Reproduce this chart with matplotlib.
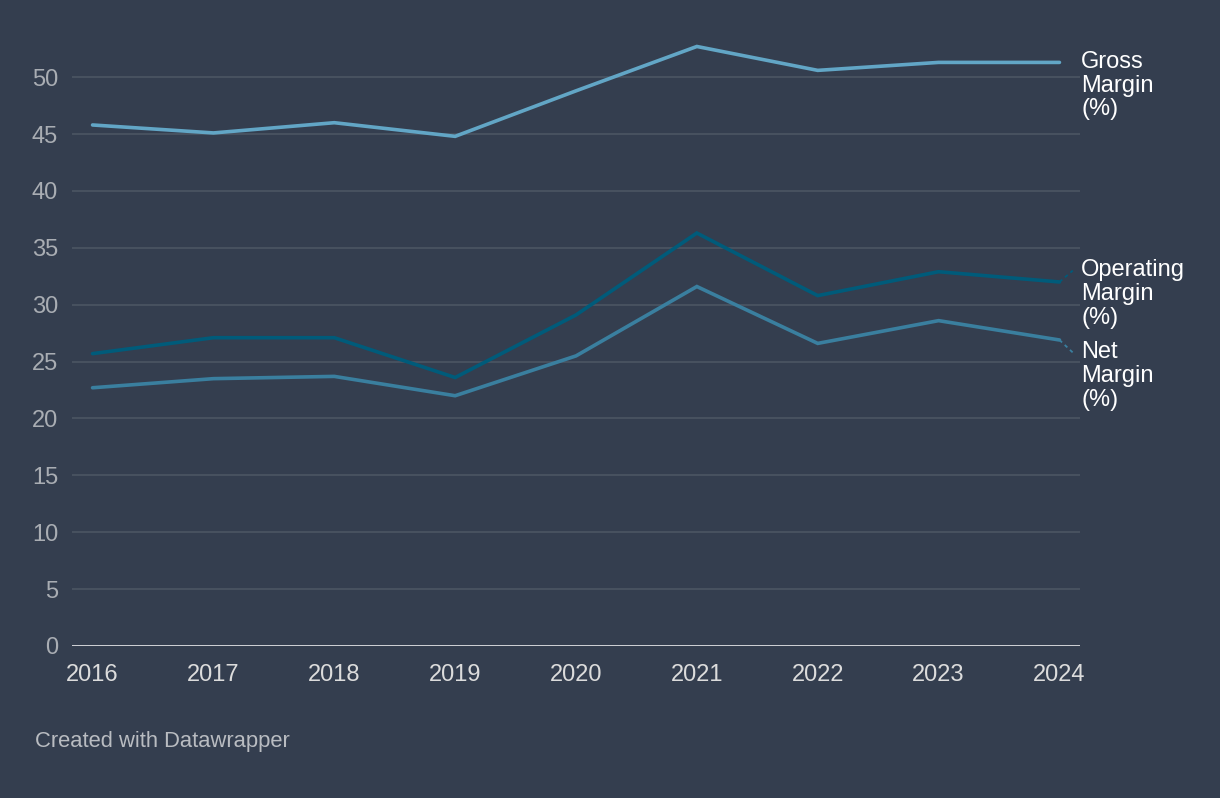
import matplotlib
matplotlib.use("Agg")
import matplotlib.pyplot as plt
from matplotlib.transforms import blended_transform_factory

plt.rcParams['font.family'] = ['Liberation Sans', 'DejaVu Sans']

years = [2016, 2017, 2018, 2019, 2020, 2021, 2022, 2023, 2024]
gross_margin = [45.8, 45.1, 46.0, 44.8, 48.8, 52.7, 50.6, 51.3, 51.3]
operating_margin = [25.7, 27.1, 27.1, 23.6, 29.1, 36.3, 30.8, 32.9, 32.0]
net_margin = [22.7, 23.5, 23.7, 22.0, 25.5, 31.6, 26.6, 28.6, 26.9]
series_names = ["Gross\nMargin\n(%)", "Operating\nMargin\n(%)", "Net\nMargin\n(%)"]
y_ticks = [0, 5, 10, 15, 20, 25, 30, 35, 40, 45, 50]

BG = '#343e4f'
colors = ['#62a6c6', '#005b7a', '#3a7f9f']
# label vertical anchors (data units, top of text block)
label_y = [52.3, 34.0, 26.8]

fig = plt.figure(figsize=(12.2, 7.98), dpi=100, facecolor=BG)
ax = fig.add_axes([72/1220, 1-646/798, (1080-72)/1220, (646-26)/798])
ax.set_facecolor(BG)

ax.set_xlim(2015.83, 2024.17)
ax.set_ylim(0, 54.5)

for t in y_ticks[1:]:
    ax.axhline(t, color='#4e5764', lw=1.1, zorder=1)
ax.axhline(0, color='white', lw=1.8, zorder=3)

data = [gross_margin, operating_margin, net_margin]
for vals, c in zip(data, colors):
    ax.plot(years, vals, color=c, lw=2.6, solid_capstyle='round',
            solid_joinstyle='miter', zorder=4)

for s in ax.spines.values():
    s.set_visible(False)

ax.set_yticks(y_ticks)
ax.set_yticklabels([str(t) for t in y_ticks])
ax.set_xticks(years)
ax.set_xticklabels([str(y) for y in years])
ax.tick_params(axis='y', length=0, pad=10, labelsize=17, labelcolor='#a9adb3')
ax.tick_params(axis='x', length=0, pad=13, labelsize=17, labelcolor='#dcdcdc')

trans = blended_transform_factory(ax.transAxes, ax.transData)
for name, vals, ly, c in zip(series_names, data, label_y, colors):
    ax.text(1.0 + 1/1008, ly, name, transform=trans, ha='left', va='top',
            fontsize=17, color='white', linespacing=1.1,
            clip_on=False)
    last = vals[-1]
    if abs(last - (ly - 1.0)) > 0.5:
        ax.plot([years[-1], years[-1] + 0.11], [last, ly - 1.0],
                color=c, lw=1.3, ls=(0, (2, 2)), clip_on=False, zorder=4)

fig.text(35/1220, 1-741/798, "Created with Datawrapper", fontsize=15.8,
         color='#b9bcc1', ha='left', va='center')

fig.savefig('out.png', dpi=100, facecolor=BG)
